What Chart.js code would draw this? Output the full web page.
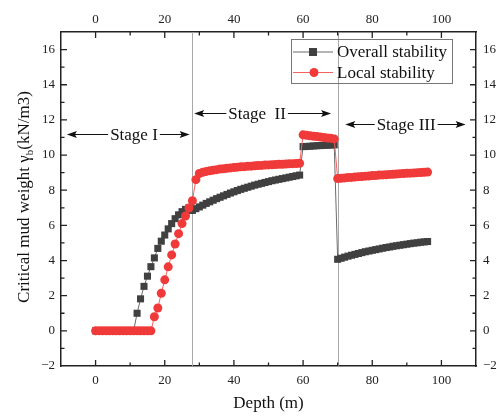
<!DOCTYPE html>
<html><head><meta charset="utf-8">
<script src="https://cdn.jsdelivr.net/npm/chart.js@4.4.0/dist/chart.umd.min.js"></script>
<style>html,body{margin:0;padding:0;background:#fff}#wrap{width:497px;height:417px;position:relative}</style>
</head><body><div id="wrap"><canvas id="c"></canvas></div>
<script>
// ---- data ----
const depths = [0,1,2,3,4,5,6,7,8,9,10,11,12,13,14,15,16,17,18,19,20,21,22,23,24,25,26,27,28,29,30,31,32,33,34,35,36,37,38,39,40,41,42,43,44,45,46,47,48,49,50,51,52,53,54,55,56,57,58,59,60,61,62,63,64,65,66,67,68,69,70,71,72,73,74,75,76,77,78,79,80,81,82,83,84,85,86,87,88,89,90,91,92,93,94,95,96];
const overallStability = [
  0,0,0,0,0,0,0,0,0,0,0,0,
  1.0,1.82,2.53,3.11,3.65,4.15,4.69,5.1,5.45,5.8,6.1,6.38,6.6,6.78,6.91,7.0,6.85,
  6.95,7.05,7.15,7.25,7.34,7.43,7.52,7.60,7.68,7.76,7.84,7.91,7.98,8.05,8.11,8.17,8.23,8.29,8.34,8.39,8.44,8.49,8.54,8.58,8.62,8.66,8.70,8.74,8.78,8.82,8.86,
  10.48,10.49,10.50,10.52,10.53,10.54,10.55,10.56,10.57,10.58,
  4.07,4.13,4.19,4.25,4.30,4.35,4.40,4.45,4.50,4.54,4.58,4.62,4.66,4.70,4.74,4.77,4.81,4.84,4.87,4.90,4.93,4.96,4.99,5.01,5.04,5.06,5.08
];
const localStability = [
  0,0,0,0,0,0,0,0,0,0,0,0,0,0,0,0,0,
  0.8,1.3,2.14,2.9,3.64,4.32,4.94,5.53,6.1,6.53,6.99,7.4,
  8.6,8.95,9.02,9.07,9.11,9.14,9.17,9.20,9.22,9.25,9.27,9.29,9.31,9.33,9.34,9.36,9.37,9.39,9.40,9.41,9.43,9.44,9.45,9.46,9.47,9.48,9.49,9.50,9.51,9.52,9.53,
  11.15,11.12,11.10,11.07,11.05,11.02,11.00,10.97,10.95,10.92,
  8.66,8.68,8.70,8.72,8.73,8.75,8.77,8.78,8.80,8.81,8.83,8.84,8.86,8.87,8.88,8.90,8.91,8.92,8.94,8.95,8.96,8.97,8.98,9.00,9.01,9.02,9.03
];
const seriesNames = ['Overall stability', 'Local stability'];
const xTicks = [0, 20, 40, 60, 80, 100];
const yTicks = [-2, 0, 2, 4, 6, 8, 10, 12, 14, 16];
const stageBoundaries = [28, 70];
const stageLabels = ['Stage I', 'Stage  II', 'Stage III'];
const stageFrom = [-8.3, 28.5, 72.2];
const stageTo = [27.2, 68.1, 107];
const stageLevel = [11.18, 12.41, 11.74];
const stageTextAt = [11.1, 46.7, 89.8];

// ---- styles ----
const SERIF = "'Liberation Serif', 'Times New Roman', serif";
const AXIS = '#222';
const BLACK = '#404040';
const RED = '#f03a3a';

const toPts = (vals) => vals.map((v, i) => ({x: depths[i], y: v}));
const minusFmt = (v) => String(v).replace('-', '\u2212');

const decor = {
  id: 'decor',
  beforeDatasetsDraw(chart) {
    const {ctx, chartArea: a, scales} = chart;
    ctx.save();
    ctx.strokeStyle = '#a8a8a8';
    ctx.lineWidth = 1;
    stageBoundaries.forEach(b => {
      const px = Math.round(scales.x.getPixelForValue(b)) + 0.5;
      ctx.beginPath(); ctx.moveTo(px, a.top); ctx.lineTo(px, a.bottom); ctx.stroke();
    });
    ctx.restore();
  },
  afterDraw(chart) {
    const {ctx, chartArea: a, scales} = chart;
    const sx = scales.x, sy = scales.y;
    ctx.save();
    // inward ticks
    ctx.strokeStyle = AXIS; ctx.lineWidth = 1.3;
    for (let v = 0; v <= 100; v += 10) {
      const px = sx.getPixelForValue(v);
      const len = v % 20 === 0 ? 6 : 3.5;
      ctx.beginPath();
      ctx.moveTo(px, a.bottom); ctx.lineTo(px, a.bottom - len);
      ctx.moveTo(px, a.top); ctx.lineTo(px, a.top + len);
      ctx.stroke();
    }
    for (let v = -1; v <= 16; v += 1) {
      const py = sy.getPixelForValue(v);
      const len = v % 2 === 0 ? 6 : 3.5;
      ctx.beginPath();
      ctx.moveTo(a.left, py); ctx.lineTo(a.left + len, py);
      ctx.moveTo(a.right, py); ctx.lineTo(a.right - len, py);
      ctx.stroke();
    }
    // stage annotations
    ctx.font = '17px ' + SERIF;
    ctx.fillStyle = '#111'; ctx.strokeStyle = '#111'; ctx.lineWidth = 1;
    ctx.textAlign = 'center'; ctx.textBaseline = 'middle';
    const arrowHead = (x, y, dir) => {
      ctx.beginPath();
      ctx.moveTo(x, y); ctx.lineTo(x - dir * 10, y - 3.5); ctx.lineTo(x - dir * 8, y); ctx.lineTo(x - dir * 10, y + 3.5);
      ctx.closePath(); ctx.fill();
    };
    stageLabels.forEach((lab, i) => {
      const y = Math.round(sy.getPixelForValue(stageLevel[i])) + 0.5;
      const cx = sx.getPixelForValue(stageTextAt[i]);
      const x1 = sx.getPixelForValue(stageFrom[i]);
      const x2 = sx.getPixelForValue(stageTo[i]);
      const w = ctx.measureText(lab).width;
      ctx.fillText(lab, cx, y + 1);
      ctx.beginPath();
      ctx.moveTo(x1 + 4, y); ctx.lineTo(cx - w / 2 - 2, y);
      ctx.moveTo(cx + w / 2 + 2, y); ctx.lineTo(x2 - 4, y);
      ctx.stroke();
      arrowHead(x1, y, -1); arrowHead(x2, y, 1);
    });
    // legend
    const ds = chart.data.datasets;
    ctx.strokeStyle = '#777'; ctx.lineWidth = 1;
    ctx.strokeRect(291.5, 39.5, 161, 44);
    ctx.textAlign = 'left'; ctx.textBaseline = 'middle';
    ctx.font = '17px ' + SERIF;
    [52, 72.5].forEach((ly, i) => {
      const d = ds[i];
      ctx.strokeStyle = d.borderColor; ctx.lineWidth = 1;
      ctx.beginPath(); ctx.moveTo(293, ly); ctx.lineTo(333, ly); ctx.stroke();
      ctx.fillStyle = d.pointBackgroundColor;
      if (d.pointStyle === 'rect') { ctx.fillRect(313 - 4, ly - 4, 8, 8); }
      else { ctx.beginPath(); ctx.arc(314, ly, 4.5, 0, Math.PI * 2); ctx.fill(); }
      ctx.fillStyle = '#111';
      ctx.fillText(d.label, 337, ly + 1);
    });
    // y-axis title with subscript
    const cy = (a.top + a.bottom) / 2 - 2;
    ctx.translate(28.5, cy); ctx.rotate(-Math.PI / 2);
    ctx.textAlign = 'left'; ctx.textBaseline = 'alphabetic'; ctx.fillStyle = '#111';
    const p1 = 'Critical mud weight \u03B3', p2 = 'b', p3 = '(kN/m3)';
    ctx.font = '17px ' + SERIF; const w1 = ctx.measureText(p1).width, w3 = ctx.measureText(p3).width;
    ctx.font = '11px ' + SERIF; const w2 = ctx.measureText(p2).width;
    let x0 = -(w1 + w2 + w3) / 2;
    ctx.font = '17px ' + SERIF; ctx.fillText(p1, x0, 0);
    ctx.font = '11px ' + SERIF; ctx.fillText(p2, x0 + w1, 4);
    ctx.font = '17px ' + SERIF; ctx.fillText(p3, x0 + w1 + w2, 0);
    ctx.restore();
  }
};

const tickFont = {family: SERIF, size: 13};
const xAxis = (pos, h, pad, title) => ({
  type: 'linear', position: pos, min: -10, max: 110,
  grid: {display: false, drawTicks: false}, border: {display: true, color: AXIS, width: 1.5},
  afterBuildTicks: s => { s.ticks = xTicks.map(v => ({value: v})); },
  afterFit: s => { s.height = h; },
  ticks: {font: tickFont, color: '#222', padding: pad, maxRotation: 0, autoSkip: false},
  title: title ? {display: true, text: title, font: {family: SERIF, size: 17}, color: '#111', padding: {top: 0, bottom: 3}} : {display: false}
});
const yAxis = (pos, w, pad) => ({
  type: 'linear', position: pos, min: -2, max: 17,
  grid: {display: false, drawTicks: false}, border: {display: true, color: AXIS, width: 1.5},
  afterBuildTicks: s => { s.ticks = yTicks.map(v => ({value: v})); },
  afterFit: s => { s.width = w; },
  ticks: {font: tickFont, color: '#222', padding: pad, autoSkip: false, callback: minusFmt}
});

new Chart(document.getElementById('c'), {
  type: 'scatter',
  data: {
    datasets: [
      {label: seriesNames[0], data: toPts(overallStability), showLine: true, borderColor: '#6a6a6a', borderWidth: 1,
       pointStyle: 'rect', pointRadius: 5, pointBackgroundColor: BLACK, pointBorderWidth: 0, order: 1},
      {label: seriesNames[1], data: toPts(localStability), showLine: true, borderColor: '#f56060', borderWidth: 1,
       pointStyle: 'circle', pointRadius: 4.5, pointBackgroundColor: RED, pointBorderWidth: 0, order: 0}
    ]
  },
  options: {
    responsive: true, maintainAspectRatio: false, animation: false,
    layout: {padding: 0},
    plugins: {legend: {display: false}, tooltip: {enabled: false}},
    scales: {
      x: xAxis('bottom', 51, 7, 'Depth (m)'),
      x2: xAxis('top', 32, 5, null),
      y: yAxis('left', 61, 6),
      y2: yAxis('right', 21, 7)
    }
  },
  plugins: [decor]
});
</script></body></html>
